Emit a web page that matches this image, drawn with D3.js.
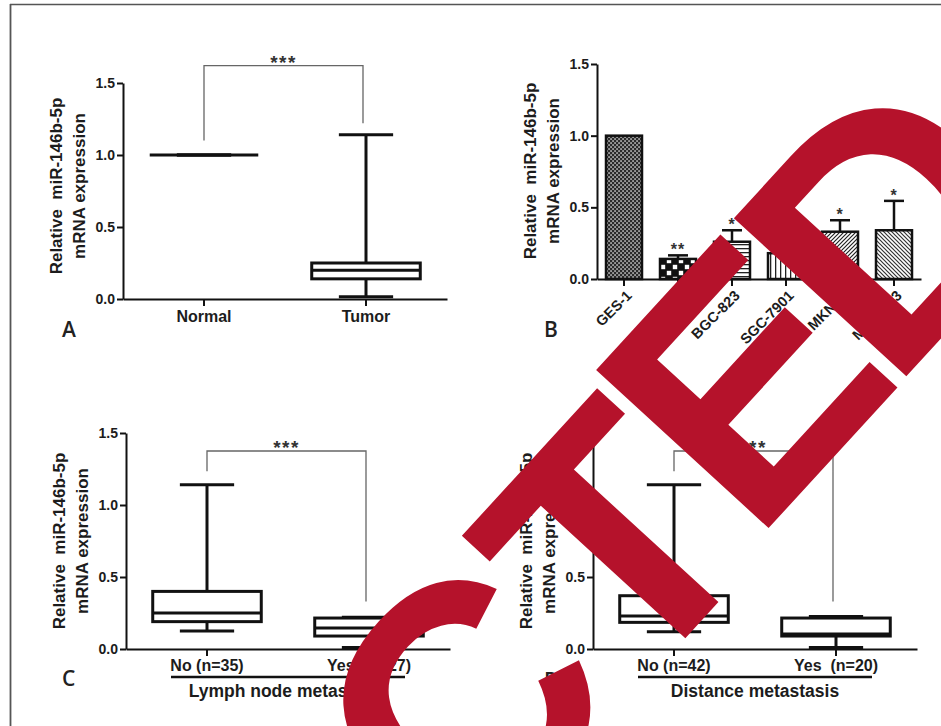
<!DOCTYPE html>
<html><head><meta charset="utf-8">
<script src="https://cdn.jsdelivr.net/npm/d3@7"></script>
<style>
html,body{margin:0;padding:0;background:#fff;}
svg{display:block;}
</style></head><body>
<svg id="c" width="941" height="726"></svg>
<script>
// ---------- data ----------
const yTicks = [0, 0.5, 1.0, 1.5];
const yTitle1 = "Relative  miR-146b-5p";
const yTitle2 = "mRNA expression";

// Panel A
const aCategories = ["Normal", "Tumor"];
const aMin    = [1.0, 0.015];
const aQ1     = [1.0, 0.14];
const aMedian = [1.0, 0.20];
const aQ3     = [1.0, 0.25];
const aMax    = [1.0, 1.14];
const aBracket = {top: 1.62, left: 1.10, right: 1.22, label: "***"};

// Panel B
const bCategories = ["GES-1", "AGS", "BGC-823", "SGC-7901", "MKN28", "MGC-803"];
const bMeans  = [1.0, 0.14, 0.26, 0.18, 0.33, 0.34];
const bErrors = [0, 0.025, 0.08, 0, 0.08, 0.205];
const bStars  = ["", "**", "*", "", "*", "*"];

// Panel C
const cCategories = ["No (n=35)", "Yes  (n=27)"];
const cMin    = [0.125, 0.01];
const cQ1     = [0.19, 0.09];
const cMedian = [0.25, 0.145];
const cQ3     = [0.40, 0.215];
const cMax    = [1.14, 0.22];
const cBracket = {top: 1.375, left: 1.235, right: 0.33, label: "***"};
const cGroup = "Lymph node metastasis";

// Panel D
const dCategories = ["No (n=42)", "Yes  (n=20)"];
const dMin    = [0.12, 0.01];
const dQ1     = [0.185, 0.09];
const dMedian = [0.23, 0.105];
const dQ3     = [0.37, 0.215];
const dMax    = [1.14, 0.225];
const dBracket = {top: 1.375, left: 1.235, right: 0.33, label: "***"};
const dGroup = "Distance metastasis";

// visible letters of the retraction stamp
const stampLetters = ["C", "T", "E", "D"];

// ---------- drawing ----------
const FONT = '"Liberation Sans", Arial, Helvetica, sans-serif';
const INK = "#1c1c1c";
const svg = d3.select("#c").attr("font-family", FONT);

// frame
svg.append("line").attr("x1", 10).attr("x2", 941).attr("y1", 4.5).attr("y2", 4.5)
  .attr("stroke", "#555").attr("stroke-width", 1.6);
svg.append("line").attr("x1", 10.5).attr("x2", 10.5).attr("y1", 4).attr("y2", 726)
  .attr("stroke", "#555").attr("stroke-width", 1.8);

// patterns
const defs = svg.append("defs");
function pat(id, w, h, build) {
  const p = defs.append("pattern").attr("id", id).attr("patternUnits", "userSpaceOnUse")
    .attr("width", w).attr("height", h);
  build(p);
}
pat("p0", 4, 4, p => {
  p.append("rect").attr("width", 4).attr("height", 4).attr("fill", "#2a2a2a");
  p.append("rect").attr("x", 0.3).attr("y", 0.3).attr("width", 1.5).attr("height", 1.5).attr("fill", "#d8d8d8");
  p.append("rect").attr("x", 2.3).attr("y", 2.3).attr("width", 1.5).attr("height", 1.5).attr("fill", "#d8d8d8");
});
pat("p1", 12, 12, p => {
  p.append("rect").attr("width", 12).attr("height", 12).attr("fill", "#111");
  p.append("rect").attr("x", 0.8).attr("y", 0.8).attr("width", 4.4).attr("height", 4.4).attr("fill", "#fff");
  p.append("rect").attr("x", 6.8).attr("y", 6.8).attr("width", 4.4).attr("height", 4.4).attr("fill", "#fff");
});
pat("p2", 4, 4, p => {
  p.append("rect").attr("width", 4).attr("height", 4).attr("fill", "#fff");
  p.append("rect").attr("y", 0).attr("width", 4).attr("height", 1.3).attr("fill", "#222");
});
pat("p3", 5, 5, p => {
  p.append("rect").attr("width", 5).attr("height", 5).attr("fill", "#fff");
  p.append("rect").attr("x", 0).attr("width", 1.3).attr("height", 5).attr("fill", "#222");
});
pat("p4", 4, 4, p => {
  p.append("rect").attr("width", 4).attr("height", 4).attr("fill", "#fff");
  p.append("path").attr("d", "M-1,1 L1,-1 M0,4 L4,0 M3,5 L5,3").attr("stroke", "#222").attr("stroke-width", 1.2);
});
pat("p5", 4, 4, p => {
  p.append("rect").attr("width", 4).attr("height", 4).attr("fill", "#fff");
  p.append("path").attr("d", "M-1,3 L1,5 M0,0 L4,4 M3,-1 L5,1").attr("stroke", "#333").attr("stroke-width", 1.2);
});

function styleAxis(a, fs) {
  a.select(".domain").attr("stroke", "#111").attr("stroke-width", 2);
  a.selectAll(".tick line").attr("stroke", "#111").attr("stroke-width", 2);
  a.selectAll("text").attr("fill", INK).attr("font-weight", "bold").attr("font-family", FONT).attr("font-size", fs);
}
function drawYAxis(y, x0) {
  const a = svg.append("g").attr("transform", `translate(${x0},0)`)
    .call(d3.axisLeft(y).tickValues(yTicks).tickFormat(d3.format(".1f")).tickSize(6).tickSizeOuter(0).tickPadding(2));
  styleAxis(a, 14);
}
function drawYTitle(x0, yc) {
  const g = svg.append("g").attr("font-weight", "bold").attr("font-size", 17).attr("fill", INK);
  g.append("text").attr("transform", `translate(${x0 - 61},${yc}) rotate(-90)`)
    .attr("text-anchor", "middle").style("white-space", "pre").text(yTitle1);
  g.append("text").attr("transform", `translate(${x0 - 38},${yc}) rotate(-90)`)
    .attr("text-anchor", "middle").text(yTitle2);
}
function panelLabel(t, x, y) {
  svg.append("text").attr("x", x).attr("y", y).attr("font-family", '"Open Sans", sans-serif')
    .attr("font-weight", 600).attr("font-size", 21).attr("fill", "#222").text(t);
}

function boxPanel(cfg) {
  const x = d3.scaleBand().domain(cfg.cats).range(cfg.xr);
  const y = d3.scaleLinear().domain([0, 1.5]).range(cfg.yr);
  const cx = c => x(c) + x.bandwidth() / 2;
  const xa = svg.append("g").attr("transform", `translate(0,${cfg.yr[0]})`)
    .call(d3.axisBottom(x).tickSize(7).tickSizeOuter(0).tickPadding(cfg.pad));
  styleAxis(xa, 16);
  xa.selectAll("text").style("white-space", "pre");
  drawYAxis(y, cfg.xr[0]);
  drawYTitle(cfg.xr[0], cfg.titleY);

  const w = x.bandwidth() * 0.67, cw = w / 2;
  const g = svg.append("g").attr("stroke", "#111").attr("stroke-width", 3).attr("fill", "none");
  cfg.cats.forEach((c, i) => {
    const X = cx(c);
    g.append("line").attr("x1", X).attr("x2", X).attr("y1", y(cfg.max[i])).attr("y2", y(cfg.min[i]));
    g.append("line").attr("x1", X - cw / 2).attr("x2", X + cw / 2).attr("y1", y(cfg.max[i])).attr("y2", y(cfg.max[i]));
    g.append("line").attr("x1", X - cw / 2).attr("x2", X + cw / 2).attr("y1", y(cfg.min[i])).attr("y2", y(cfg.min[i]));
    g.append("rect").attr("x", X - w / 2).attr("width", w)
      .attr("y", y(cfg.q3[i])).attr("height", y(cfg.q1[i]) - y(cfg.q3[i])).attr("fill", "#fff");
    g.append("line").attr("x1", X - w / 2).attr("x2", X + w / 2).attr("y1", y(cfg.med[i])).attr("y2", y(cfg.med[i]));
  });

  // significance bracket
  const b = cfg.bracket, x1 = cx(cfg.cats[0]), x2 = cx(cfg.cats[1]) - 3;
  svg.append("path")
    .attr("d", `M${x1},${y(b.left)}V${y(b.top)}H${x2}V${y(b.right)}`)
    .attr("fill", "none").attr("stroke", "#666").attr("stroke-width", 1.3);
  svg.append("text").attr("x", (x1 + x2) / 2).attr("y", y(b.top) + 3).attr("text-anchor", "middle")
    .attr("font-size", 19).attr("font-weight", "bold").attr("letter-spacing", 1.5).attr("fill", "#333").text(b.label);

  if (cfg.group) {
    const gy = cfg.yr[0] + 28;
    svg.append("line").attr("x1", cx(cfg.cats[0]) - 36).attr("x2", cx(cfg.cats[1]) + 36)
      .attr("y1", gy).attr("y2", gy).attr("stroke", "#111").attr("stroke-width", 2.5);
    svg.append("text").attr("x", (cx(cfg.cats[0]) + cx(cfg.cats[1])) / 2).attr("y", gy + 20)
      .attr("text-anchor", "middle").attr("font-weight", "bold").attr("font-size", 17.5).attr("fill", INK).text(cfg.group);
  }
}

boxPanel({cats: aCategories, min: aMin, q1: aQ1, med: aMedian, q3: aQ3, max: aMax,
  xr: [123, 447], yr: [299, 83], titleY: 186, bracket: aBracket, pad: 5});
boxPanel({cats: cCategories, min: cMin, q1: cQ1, med: cMedian, q3: cQ3, max: cMax,
  xr: [126, 450], yr: [649, 433], titleY: 541, bracket: cBracket, pad: 4, group: cGroup});
boxPanel({cats: dCategories, min: dMin, q1: dQ1, med: dMedian, q3: dQ3, max: dMax,
  xr: [593, 917], yr: [649, 433], titleY: 541, bracket: dBracket, pad: 4, group: dGroup});

// Panel B bar chart
(function () {
  const x = d3.scaleBand().domain(bCategories).range([597, 921]).paddingInner(1 / 3).paddingOuter(1 / 6);
  const y = d3.scaleLinear().domain([0, 1.5]).range([279, 64]);
  const xa = svg.append("g").attr("transform", "translate(0,279)")
    .call(d3.axisBottom(x).tickSize(7).tickSizeOuter(0));
  styleAxis(xa, 14.5);
  xa.selectAll("text").attr("x", null).attr("y", null).attr("dy", "0.35em")
    .attr("text-anchor", "end").attr("transform", "translate(5,14) rotate(-45)");
  drawYAxis(y, 597);
  drawYTitle(597, 171);
  const g = svg.append("g");
  bCategories.forEach((c, i) => {
    const X = x(c) + x.bandwidth() / 2;
    if (bErrors[i] > 0) {
      const yt = y(bMeans[i] + bErrors[i]);
      g.append("line").attr("x1", X).attr("x2", X).attr("y1", y(bMeans[i])).attr("y2", yt)
        .attr("stroke", "#111").attr("stroke-width", 2.5);
      g.append("line").attr("x1", X - 10).attr("x2", X + 10).attr("y1", yt).attr("y2", yt)
        .attr("stroke", "#111").attr("stroke-width", 2.5);
    }
    g.append("rect").attr("x", x(c)).attr("width", x.bandwidth())
      .attr("y", y(bMeans[i])).attr("height", y(0) - y(bMeans[i]))
      .attr("fill", `url(#p${i})`).attr("stroke", "#111").attr("stroke-width", 2.5);
    if (bStars[i]) {
      g.append("text").attr("x", X).attr("y", y(bMeans[i] + bErrors[i]))
        .attr("text-anchor", "middle").attr("font-size", 16).attr("font-weight", "bold")
        .attr("letter-spacing", 1).attr("fill", "#333").text(bStars[i]);
    }
  });
})();

panelLabel("A", 62, 337);
panelLabel("B", 544, 337);
panelLabel("C", 62, 686);
panelLabel("D", 544, 688);

// retraction stamp (letters placed along a tilted baseline)
const stamp = svg.append("g").attr("transform", "translate(702,620) rotate(-47.5)")
  .attr("fill", "#b5122b").attr("font-family", FONT).attr("font-weight", "bold").attr("font-size", 340);
const stampX = [-349, -104, 90, 295];
const stampY = [0, 0, -13, -14];
stampLetters.forEach((l, i) => {
  stamp.append("text").attr("x", stampX[i]).attr("y", stampY[i]).text(l);
});
</script>
</body></html>
